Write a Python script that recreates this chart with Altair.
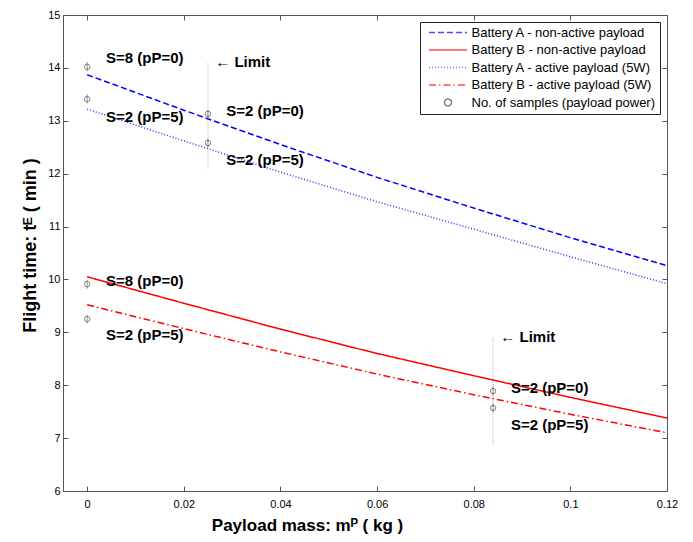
import altair as alt
import pandas as pd

# ---------------- data ----------------
x_grid = [0, 0.02, 0.04, 0.06, 0.08, 0.10, 0.12]
batt_a_nonactive = [13.87, 13.20, 12.55, 11.93, 11.35, 10.79, 10.26]
batt_b_nonactive = [10.05, 9.55, 9.06, 8.60, 8.18, 7.77, 7.38]
batt_a_active = [13.22, 12.62, 12.03, 11.47, 10.95, 10.43, 9.92]
batt_b_active = [9.52, 9.07, 8.63, 8.21, 7.82, 7.45, 7.10]

series_names = [
    "Battery A - non-active payload",
    "Battery B - non-active payload",
    "Battery A - active payload (5W)",
    "Battery B - active payload (5W)",
    "No. of samples (payload power)",
]
series_colors = ["#0000ff", "#ff0000", "#3030ff", "#ff0000", "#444444"]
series_dash = [[6, 3], [1, 0], [1, 2], [7, 3, 1.5, 3], [1, 0]]
line_path = "M-5.43,0L5.43,0"
series_shapes = [line_path, line_path, line_path, line_path, "circle"]

sample_x = [0, 0, 0.025, 0.025, 0, 0, 0.084, 0.084]
sample_y = [14.02, 13.41, 13.13, 12.58, 9.91, 9.25, 7.89, 7.57]

limit_x = [0.025, 0.084]
limit_y_low = [12.10, 6.87]
limit_y_high = [14.11, 8.91]

label_text = ["S=8 (pP=0)", "S=2 (pP=5)", "S=2 (pP=0)", "S=2 (pP=5)",
              "S=8 (pP=0)", "S=2 (pP=5)", "S=2 (pP=0)", "S=2 (pP=5)",
              "\u2190 Limit", "\u2190 Limit"]
label_x = [0.0039, 0.0039, 0.0288, 0.0288, 0.0039, 0.0039, 0.0877, 0.0877, 0.0265, 0.0855]
label_y = [14.18, 13.08, 13.19, 12.26, 9.98, 8.95, 7.95, 7.25, 14.11, 8.91]

x_ticks = [0, 0.02, 0.04, 0.06, 0.08, 0.10, 0.12]
y_ticks = [6, 7, 8, 9, 10, 11, 12, 13, 14, 15]

# ---------------- tables ----------------
line_rows = []
for name, vals in zip(series_names[:4], [batt_a_nonactive, batt_b_nonactive, batt_a_active, batt_b_active]):
    for xv, yv in zip(x_grid, vals):
        line_rows.append({"series": name, "x": xv, "y": yv})
line_df = pd.DataFrame(line_rows)
sample_df = pd.DataFrame({"x": sample_x, "y": sample_y, "series": series_names[4]})
limit_df = pd.DataFrame({"x": limit_x, "y1": limit_y_low, "y2": limit_y_high})
label_df = pd.DataFrame({"x": label_x, "y": label_y, "text": label_text})

W, H = 604, 476
FONT = "Liberation Sans"
FRAME = "#555555"

x_scale = alt.Scale(domain=[-0.005, 0.12], nice=False, zero=False)
y_scale = alt.Scale(domain=[6, 15], nice=False, zero=False)

color_scale = alt.Scale(domain=series_names, range=series_colors)
dash_scale = alt.Scale(domain=series_names, range=series_dash)
shape_scale = alt.Scale(domain=series_names, range=series_shapes)

legend = alt.Legend(
    title=None, orient="top-right", offset=7,
    strokeColor="#222222", fillColor="white", padding=4, cornerRadius=0,
    labelFont=FONT, labelFontSize=13, labelColor="black", labelLimit=400,
    symbolSize=49, symbolStrokeWidth=1.5, symbolOffset=17.5, labelOffset=17,
    rowPadding=3.5,
)

main_x_axis = alt.Axis(
    values=x_ticks, labelExpr="format(datum.value, '.2~f')", ticks=False, grid=False,
    labelFlush=False, labelOverlap=False, labelBound=False,
    domainColor=FRAME, labelFont=FONT, labelFontSize=11, labelColor="black", labelPadding=7,
    title="Payload mass: m\u1d3e ( kg )", titleFont=FONT, titleFontSize=17, titleFontWeight="bold",
    titleColor="black", titleX=244, titleY=34, titleAlign="center", titleBaseline="middle",
)
main_y_axis = alt.Axis(
    values=y_ticks, format="d", ticks=False, grid=False, labelFlush=False,
    domainColor=FRAME, labelFont=FONT, labelFontSize=11, labelColor="black", labelPadding=3,
    title="Flight time: t\u1d31 ( min )", titleFont=FONT, titleFontSize=18, titleFontWeight="bold",
    titleColor="black", titleX=-33, titleY=230, titleAngle=270, titleAlign="center", titleBaseline="middle",
)


def tick_axis(orient, offset, values):
    return alt.Axis(orient=orient, offset=offset, values=values, labels=False, title=None,
                    grid=False, tickSize=5, tickColor=FRAME, domainColor=FRAME)


frame_a = alt.Chart(sample_df).mark_point(opacity=0).encode(
    x=alt.X("x:Q", scale=x_scale, axis=tick_axis("bottom", -H, x_ticks)),
    y=alt.Y("y:Q", scale=y_scale, axis=tick_axis("right", -W, y_ticks)),
)
frame_b = alt.Chart(sample_df).mark_point(opacity=0).encode(
    x=alt.X("x:Q", scale=x_scale, axis=tick_axis("top", -H, x_ticks)),
    y=alt.Y("y:Q", scale=y_scale, axis=tick_axis("left", -W, y_ticks)),
)

limits_1 = alt.Chart(limit_df).mark_rule(strokeDash=[1, 3], strokeWidth=1, color="#e79be7").encode(
    x=alt.X("x:Q", scale=x_scale, axis=None),
    y=alt.Y("y1:Q", scale=y_scale, axis=None),
    y2="y2:Q",
)
limits_2 = alt.Chart(limit_df).mark_rule(strokeDash=[1, 3], strokeDashOffset=2, strokeWidth=1, color="#9fb6f0").encode(
    x=alt.X("x:Q", scale=x_scale, axis=None),
    y=alt.Y("y1:Q", scale=y_scale, axis=None),
    y2="y2:Q",
)

lines = alt.Chart(line_df).mark_line(strokeWidth=1.5).encode(
    x=alt.X("x:Q", scale=x_scale, axis=main_x_axis),
    y=alt.Y("y:Q", scale=y_scale, axis=main_y_axis),
    color=alt.Color("series:N", scale=color_scale, legend=legend),
    strokeDash=alt.StrokeDash("series:N", scale=dash_scale, legend=legend),
)

bars = alt.Chart(sample_df).mark_tick(orient="vertical", size=9, thickness=0.8, color="#444444").encode(
    x=alt.X("x:Q", scale=x_scale, axis=None),
    y=alt.Y("y:Q", scale=y_scale, axis=None),
)

points = alt.Chart(sample_df).mark_point(filled=False, strokeWidth=0.9).encode(
    x=alt.X("x:Q", scale=x_scale, axis=None),
    y=alt.Y("y:Q", scale=y_scale, axis=None),
    color=alt.Color("series:N", scale=color_scale, legend=legend),
    shape=alt.Shape("series:N", scale=shape_scale, legend=legend),
)

texts = alt.Chart(label_df).mark_text(align="left", baseline="middle", font=FONT, fontSize=15,
                                      fontWeight="bold", color="black").encode(
    x=alt.X("x:Q", scale=x_scale, axis=None),
    y=alt.Y("y:Q", scale=y_scale, axis=None),
    text="text:N",
)

chart = alt.layer(frame_a, frame_b, limits_1, limits_2, lines, bars, points, texts).resolve_axis(
    x="independent", y="independent"
).properties(
    width=W, height=H,
    autosize=alt.AutoSizeParams(type="none"),
    padding={"left": 55, "top": 7, "right": 18, "bottom": 44},
).configure_view(stroke=None).configure(background="white")

chart.save("out.html", embed_options={"renderer": "svg", "actions": False})
